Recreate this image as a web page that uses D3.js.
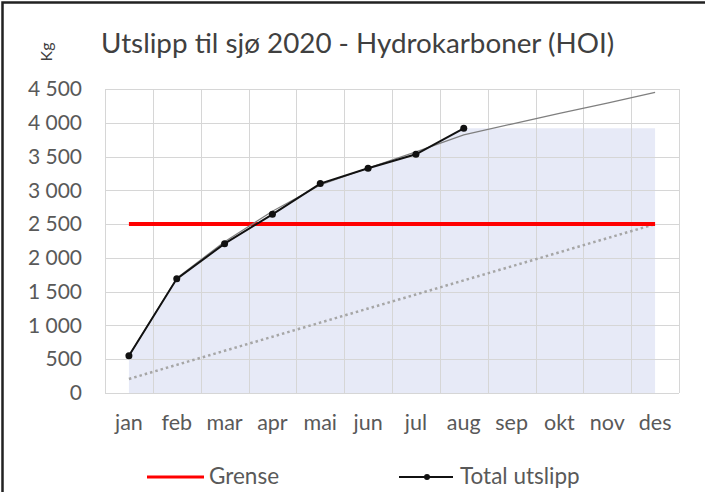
<!DOCTYPE html>
<html>
<head>
<meta charset="utf-8">
<script src="https://cdn.jsdelivr.net/npm/d3@7/dist/d3.min.js"></script>
<style>
  html, body { margin: 0; padding: 0; background: #fff; }
  svg { display: block; }
  text { font-family: Lato, "Open Sans", "Liberation Sans", sans-serif; fill: #595959; }
</style>
</head>
<body>
<svg id="chart" width="705" height="492"></svg>
<script>
const months = ["jan","feb","mar","apr","mai","jun","jul","aug","sep","okt","nov","des"];
const totalUtslipp = [550, 1690, 2210, 2645, 3100, 3326, 3533, 3918];
const prognose = [550, 1700, 2240, 2690, 3080, 3330, 3570, 3820, 3980, 4140, 4290, 4450];
const hittil = [550, 1690, 2210, 2645, 3100, 3326, 3533, 3918, 3918, 3918, 3918, 3918];
const grense = [2500, 2500, 2500, 2500, 2500, 2500, 2500, 2500, 2500, 2500, 2500, 2500];
const lineaer = [208, 417, 625, 833, 1042, 1250, 1458, 1667, 1875, 2083, 2292, 2500];
const yTicks = [0, 500, 1000, 1500, 2000, 2500, 3000, 3500, 4000, 4500];
const title = "Utslipp til sjø 2020 - Hydrokarboner (HOI)";
const yLabel = "Kg";
const legendItems = ["Grense", "Total utslipp"];

const svg = d3.select("#chart");
const L = 105, R = 679, T = 89, B = 393;

const x = d3.scaleBand().domain(months).range([L, R]).paddingInner(0).paddingOuter(0);
const cx = m => x(m) + x.bandwidth() / 2;
const y = d3.scaleLinear().domain([0, 4500]).range([B, T]);

// frame
svg.append("path").attr("d", `M2.5,492 V2.5 H705`).attr("fill", "none")
  .attr("stroke", "#222").attr("stroke-width", 2.5);

// title
svg.append("text").attr("x", 101).attr("y", 53).attr("font-size", 27.8)
  .style("fill", "#404040").text(title);
svg.append("text").attr("transform", "translate(52,52) rotate(-90)")
  .attr("text-anchor", "middle").attr("font-size", 16).style("fill", "#404040").text(yLabel);

// area (behind gridlines)
const area = d3.area().x((d, i) => cx(months[i])).y0(y(0)).y1(d => y(d));
svg.append("path").datum(hittil).attr("d", area).attr("fill", "#e7eaf7");

// gridlines
const grid = svg.append("g").attr("stroke", "#d6d6d6").attr("stroke-width", 1).attr("fill", "none");
yTicks.forEach(t => grid.append("line").attr("x1", L).attr("x2", R).attr("y1", Math.round(y(t)) + 0.5).attr("y2", Math.round(y(t)) + 0.5));
months.concat([null]).forEach((m, i) => {
  const xx = m ? x(m) : R;
  grid.append("line").attr("x1", Math.round(xx) + 0.5).attr("x2", Math.round(xx) + 0.5).attr("y1", T).attr("y2", B);
});

// axes
const fmt = v => d3.format(",")(v).replace(/,/g, " ");
const yAxis = svg.append("g").attr("transform", `translate(${L},0)`)
  .call(d3.axisLeft(y).tickValues(yTicks).tickFormat(fmt).tickSize(0).tickPadding(23));
yAxis.select(".domain").remove();
yAxis.selectAll("text").attr("font-size", 21).style("fill", "#595959").attr("font-family", null);

const xAxis = svg.append("g").attr("transform", `translate(0,${B})`)
  .call(d3.axisBottom(x).tickSize(0).tickPadding(22));
xAxis.select(".domain").remove();
xAxis.selectAll("text").attr("font-size", 21.5).style("fill", "#595959").attr("font-family", null);

// linear budget (dotted)
const line = d3.line().x((d, i) => cx(months[i])).y(d => y(d));
svg.append("path").datum(lineaer).attr("d", line).attr("fill", "none")
  .attr("stroke", "#a6a6a6").attr("stroke-width", 2.5).attr("stroke-dasharray", "2.5,3");

// grense
svg.append("path").datum(grense).attr("d", line).attr("fill", "none")
  .attr("stroke", "#ff0000").attr("stroke-width", 4);

// prognose thin gray
svg.append("path").datum(prognose).attr("d", line).attr("fill", "none")
  .attr("stroke", "#7f7f7f").attr("stroke-width", 1.2);

// total utslipp
svg.append("path").datum(totalUtslipp).attr("d", line).attr("fill", "none")
  .attr("stroke", "#111").attr("stroke-width", 2);
svg.append("g").selectAll("circle").data(totalUtslipp).join("circle")
  .attr("cx", (d, i) => cx(months[i])).attr("cy", d => y(d)).attr("r", 3.5).attr("fill", "#111");

// legend
const lg = svg.append("g");
lg.append("line").attr("x1", 147).attr("x2", 204).attr("y1", 477).attr("y2", 477)
  .attr("stroke", "#ff0000").attr("stroke-width", 3);
lg.append("text").attr("x", 209).attr("y", 484).attr("font-size", 22.5).text(legendItems[0]);
lg.append("line").attr("x1", 399).attr("x2", 453).attr("y1", 477).attr("y2", 477)
  .attr("stroke", "#111").attr("stroke-width", 2);
lg.append("circle").attr("cx", 427).attr("cy", 477).attr("r", 3).attr("fill", "#111");
lg.append("text").attr("x", 460).attr("y", 484).attr("font-size", 22.5).text(legendItems[1]);
</script>
</body>
</html>
